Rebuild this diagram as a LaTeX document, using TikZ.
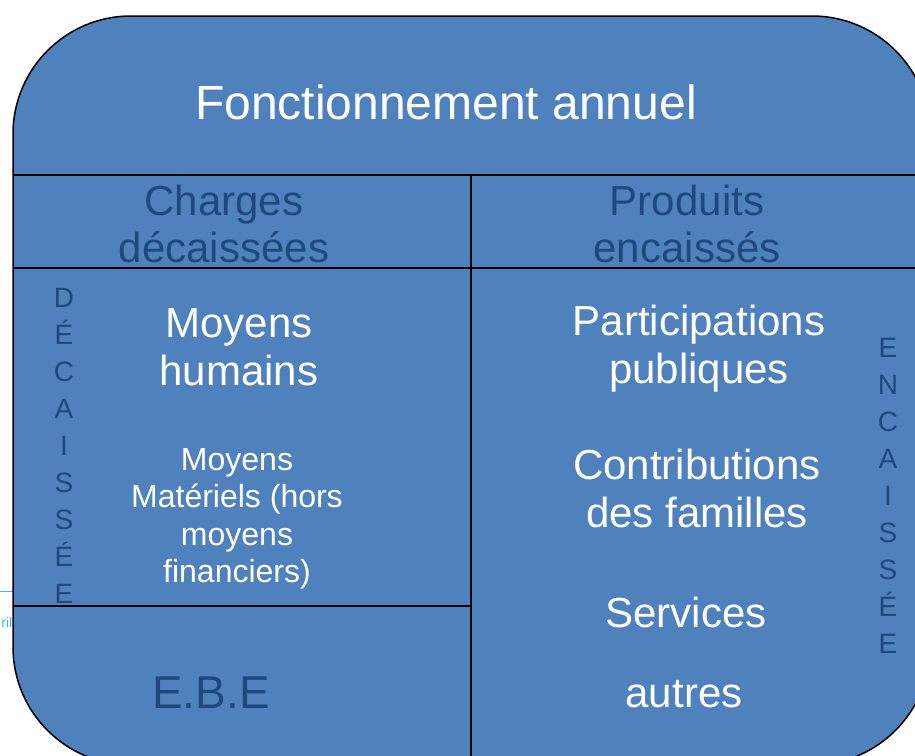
\documentclass[tikz,border=0pt]{standalone}
\usepackage{fontspec}
\setmainfont{Liberation Sans}
\usetikzlibrary{positioning}
\definecolor{boxblue}{HTML}{4F81BD}
\definecolor{darkblue}{HTML}{1F497D}
\definecolor{cyanmark}{HTML}{3CBFD8}
\tikzset{
  white text/.style={text=white, align=center, inner sep=0pt},
  dark text/.style={text=darkblue, align=center, inner sep=0pt},
  rule/.style={line width=1.5pt}
}
\begin{document}
\begin{tikzpicture}[x=1pt,y=-1pt]
	\useasboundingbox (0,0) rectangle (915,755);
	\clip (0,0) rectangle (915,755);
	\draw[cyanmark, line width=0.8pt] (0,591)--(13,591);
	\node (mark) at (12.5,622) [anchor=east, text=cyanmark, inner sep=0pt, font=\fontsize{14}{16}\selectfont] {ril};
	\draw[rule, fill=boxblue, rounded corners=118pt] (13,16) rectangle (930,765);
	\coordinate (l1) at (13,175);
	\coordinate (r1) at (930,175);
	\coordinate (l2) at (13,268);
	\coordinate (r2) at (930,268);
	\coordinate (mtop) at (471,175);
	\coordinate (mbot) at (471,765);
	\coordinate (l3) at (13,606);
	\coordinate (m3) at (471,606);
	\draw[rule] (l1)--(r1);
	\draw[rule] (l2)--(r2);
	\draw[rule] (mtop)--(mbot);
	\draw[rule] (l3)--(m3);
	\node (title) at (446,102) [white text, font=\fontsize{48}{52}\selectfont] {Fonctionnement annuel};
	\node (charges) at (224,224) [dark text, font=\fontsize{42}{47}\selectfont] {Charges\\décaissées};
	\node (produits) at (687,224) [dark text, font=\fontsize{42}{47}\selectfont] {Produits\\encaissés};
	\node (humains) at (239,347) [white text, font=\fontsize{42}{48}\selectfont] {Moyens\\humains};
	\node (materiels) at (237,519) [white text, font=\fontsize{32}{37.5}\selectfont] {Moyens\\Matériels (hors\\moyens\\financiers)};
	\node (ebe) at (211,693) [dark text, font=\fontsize{46}{50}\selectfont] {E.B.E};
	\node (publiques) at (699,349) [white text, font=\fontsize{42}{48}\selectfont] {Participations\\publiques};
	\node (familles) at (697,488) [white text, font=\fontsize{42}{48}\selectfont] {Contributions\\des familles};
	\node (services) at (686,612) [white text, font=\fontsize{42}{46}\selectfont] {Services};
	\node (autres) at (684,694) [white text, font=\fontsize{42}{46}\selectfont] {autres};
	\node (decaisse) at (64,446) [dark text, font=\fontsize{28}{37}\selectfont] {D\\É\\C\\A\\I\\S\\S\\É\\E};
	\node (encaisse) at (888,496) [dark text, font=\fontsize{28}{37}\selectfont] {E\\N\\C\\A\\I\\S\\S\\É\\E};
\end{tikzpicture}
\end{document}
